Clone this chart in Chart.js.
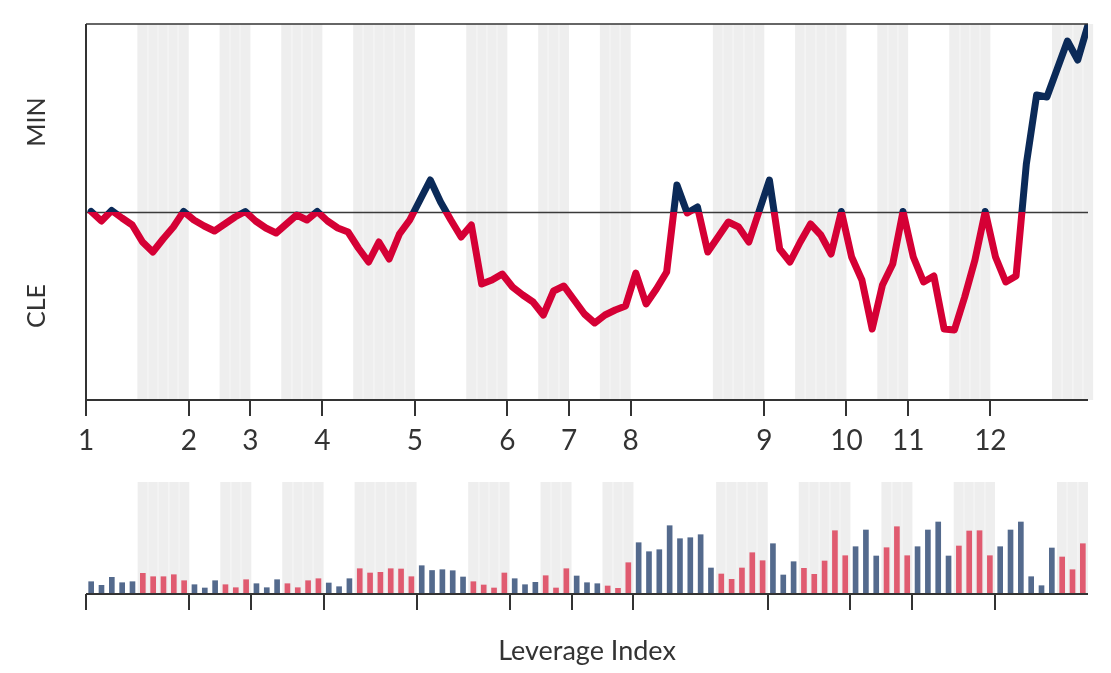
<!DOCTYPE html>
<html>
<head>
<meta charset="utf-8">
<script src="https://cdn.jsdelivr.net/npm/chart.js@4.4.0/dist/chart.umd.min.js"></script>
<style>
  body { margin: 0; background: #fff; }
  #leverage-chart { position: absolute; left: 0; top: 0; }
  #bar-chart { position: absolute; left: 0; top: 470px; }
</style>
</head>
<body>
<canvas id="leverage-chart" width="1111" height="470"></canvas>
<canvas id="bar-chart" width="1111" height="203"></canvas>
<script>
// Data

const groupLabels = ["1", "2", "3", "4", "5", "6", "7", "8", "9", "10", "11", "12"];
const groupSizes = [10, 6, 7, 9, 9, 6, 6, 13, 8, 6, 8, 9];
const groupShaded = [5, 3, 4, 6, 4, 3, 3, 5, 5, 3, 4, 3];

const leverageValues = [
    0.5, -9, 1.5, -6, -13, -30, -40, -27, -15, 0.5,
    -8, -14, -19, -12, -5, 0.5, -9, -16, -21, -12,
    -3, -8, 0.5, -9, -16, -20, -36, -50, -30, -47,
    -22, -8, 12, 32, 10, -8, -25, -13, -72, -68,
    -62, -75, -83, -90, -103, -79, -74, -88, -102, -111,
    -103, -98, -94, -61, -92, -77, -60, 27, -1, 5,
    -40, -25, -10, -15, -30, 1, 32, -37, -50, -30,
    -12, -23, -42, 0.5, -45, -68, -117, -73, -52, 0.5,
    -45, -70, -64, -117, -118, -85, -48, 0.5, -45, -70,
    -64, 48, 117, 115, 143, 171, 152, 187
];

const barValues = [
    12.3, 8.7, 16.7, 11.3, 12.3, 20.7, 17.3, 17.3, 19.3, 13.3,
    9.3, 6, 13.3, 9.3, 6.3, 14.3, 10.3, 6.3, 14.3, 10.3,
    6.3, 13.3, 15.3, 11, 7.3, 15.3, 25.3, 21, 21.7, 25.3,
    25, 17.3, 28.3, 23.5, 24.3, 23.3, 17, 12.3, 9, 6,
    21, 15.3, 9.3, 11.7, 18.3, 6, 25.3, 18, 11.3, 10.3,
    8, 5.7, 31.3, 51.3, 42.3, 44.3, 68.3, 55.3, 56.3, 59.3,
    26, 20, 14.7, 26, 41.3, 33.3, 50.3, 19, 32.3, 25.7,
    19.7, 33, 63.3, 38.3, 47.3, 64, 38, 46.3, 67.3, 38.3,
    47.3, 64, 72, 38, 48, 63, 63.3, 38.3, 47.3, 64,
    72, 17.3, 8.3, 46, 37, 24.3, 50.3
];

const red = '#d50035';
const navy = '#0b2a58';
const barRed = '#e05b70';
const barBlue = '#546a8d';
const textColor = '#333';
const font = 'Lato, "Open Sans", sans-serif';

// group boundaries and shaded cells
const groupStarts = [];
const shadedCells = [];
let cellCount = 0;
groupSizes.forEach((size, g) => {
    groupStarts.push(cellCount);
    for (let i = cellCount + size - groupShaded[g]; i < cellCount + size; i++) {
        shadedCells.push(i);
    }
    cellCount += size;
});
// the line has one extra point at the end, it sits in the last shaded run
const lineShaded = shadedCells.concat([cellCount]);


// Plugins

const backdrop = {
    id: 'backdrop',
    beforeDatasetsDraw(chart, args, opts) {
        const {ctx, chartArea: area, scales: {x, y}} = chart;
        ctx.save();
        opts.cells.forEach(i => {
            const left = x.getPixelForValue(i + opts.cellStart);
            const right = x.getPixelForValue(i + opts.cellStart + 1);
            ctx.fillStyle = '#eeeeee';
            ctx.fillRect(left, area.top, right - left, area.bottom - area.top);
            if (opts.cells.includes(i - 1)) {
                ctx.fillStyle = '#f6f6f6';
                ctx.fillRect(Math.round(left) - 0.5, area.top, 1, area.bottom - area.top);
            }
        });
        if (opts.zeroLine) {
            const y0 = Math.round(y.getPixelForValue(0)) + 0.5;
            ctx.strokeStyle = '#3a3a3a';
            ctx.lineWidth = 1.5;
            ctx.beginPath();
            ctx.moveTo(area.left, y0);
            ctx.lineTo(area.right, y0);
            ctx.stroke();
        }
        ctx.restore();
    }
};

const axes = {
    id: 'axes',
    afterDraw(chart, args, opts) {
        const {ctx, chartArea: area, scales: {x}} = chart;
        ctx.save();
        ctx.strokeStyle = textColor;
        ctx.lineWidth = 2;
        ctx.beginPath();
        ctx.moveTo(area.left, area.bottom);
        ctx.lineTo(area.right, area.bottom);
        opts.ticks.forEach(v => {
            const px = Math.round(x.getPixelForValue(v));
            ctx.moveTo(px, area.bottom);
            ctx.lineTo(px, area.bottom + 16);
        });
        if (opts.frame) {
            ctx.moveTo(area.left, area.bottom + 16);
            ctx.lineTo(area.left, area.top);
            ctx.stroke();
            ctx.lineWidth = 1.5;
            ctx.beginPath();
            ctx.moveTo(area.left, area.top);
            ctx.lineTo(area.right, area.top);
        }
        ctx.stroke();

        ctx.fillStyle = textColor;
        ctx.textAlign = 'center';
        ctx.textBaseline = 'middle';
        if (opts.labels) {
            ctx.font = '28px ' + font;
            opts.ticks.forEach((v, i) => {
                ctx.fillText(opts.labels[i], x.getPixelForValue(v), area.bottom + 41);
            });
        }
        if (opts.sideLabels) {
            ctx.font = '25px ' + font;
            opts.sideLabels.forEach(lab => {
                ctx.save();
                ctx.translate(37, lab.y);
                ctx.rotate(-Math.PI / 2);
                ctx.fillText(lab.text, 0, 0);
                ctx.restore();
            });
        }
        if (opts.title) {
            ctx.font = '27px ' + font;
            ctx.fillText(opts.title, (area.left + area.right) / 2, area.bottom + 57);
        }
        ctx.restore();
    }
};

function splitColor(context) {
    const {chart} = context;
    const {chartArea, scales} = chart;
    if (!chartArea) return red;
    const zero = scales.y.getPixelForValue(0);
    const stop = (zero - chartArea.top) / (chartArea.bottom - chartArea.top);
    const g = chart.ctx.createLinearGradient(0, chartArea.top, 0, chartArea.bottom);
    g.addColorStop(0, navy);
    g.addColorStop(stop, navy);
    g.addColorStop(stop, red);
    g.addColorStop(1, red);
    return g;
}


// Leverage line

const lineCanvas = document.getElementById('leverage-chart');

let lineChart = new Chart(lineCanvas, {
    type: 'line',
    data: {
        datasets: [{
            data: leverageValues.map((v, i) => ({x: i, y: v})),
            borderColor: splitColor,
            borderWidth: 7,
            borderJoinStyle: 'round',
            borderCapStyle: 'round',
            pointRadius: 0,
            tension: 0
        }]
    },
    options: {
        responsive: false,
        animation: false,
        layout: {
            padding: {left: 86, right: 23, top: 24, bottom: 70}
        },
        scales: {
            x: {type: 'linear', min: -0.5, max: cellCount, display: false},
            y: {min: -188, max: 188, display: false}
        },
        plugins: {
            legend: {display: false},
            tooltip: {enabled: false},
            backdrop: {cells: lineShaded, cellStart: -0.5, zeroLine: true},
            axes: {
                ticks: groupStarts.map(s => s - 0.5),
                labels: groupLabels,
                frame: true,
                sideLabels: [{text: 'MIN', y: 122}, {text: 'CLE', y: 306}]
            }
        }
    },
    plugins: [backdrop, axes]
});


// Bars

const barCanvas = document.getElementById('bar-chart');

let barChart = new Chart(barCanvas, {
    type: 'bar',
    data: {
        datasets: [{
            data: barValues.map((v, i) => ({x: i + 0.5, y: v})),
            backgroundColor: barValues.map((v, i) => shadedCells.includes(i) ? barRed : barBlue),
            barThickness: 5
        }]
    },
    options: {
        responsive: false,
        animation: false,
        layout: {
            padding: {left: 86, right: 23, top: 12, bottom: 79}
        },
        scales: {
            x: {type: 'linear', min: 0, max: cellCount, offset: false, display: false},
            y: {min: 0, max: 112, display: false}
        },
        plugins: {
            legend: {display: false},
            tooltip: {enabled: false},
            backdrop: {cells: shadedCells, cellStart: 0},
            axes: {ticks: groupStarts, title: 'Leverage Index'}
        }
    },
    plugins: [backdrop, axes]
});
</script>
</body>
</html>
